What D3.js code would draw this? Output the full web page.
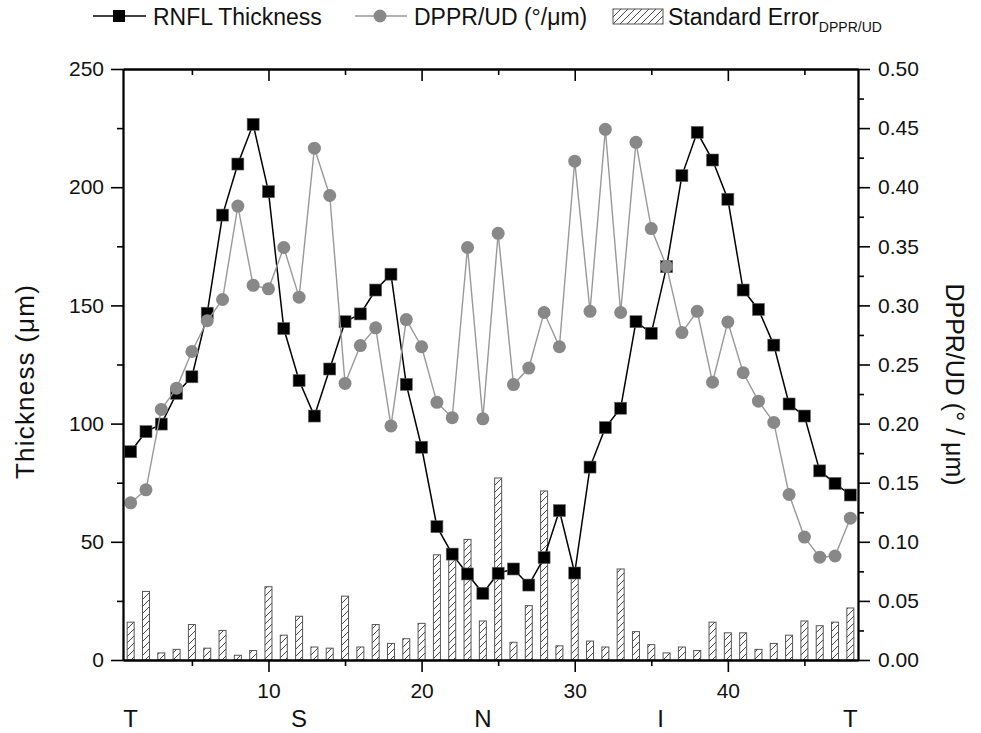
<!DOCTYPE html>
<html>
<head>
<meta charset="utf-8">
<script src="https://cdn.jsdelivr.net/npm/d3@7"></script>
<style>
  body { margin: 0; background: #fff; }
  svg { display: block; font-family: "Liberation Sans", Arial, sans-serif; }
</style>
</head>
<body>
<svg id="chart" width="981" height="733"></svg>
<script>
"use strict";

// sector index along the scan circle
const sector = [1, 2, 3, 4, 5, 6, 7, 8, 9, 10, 11, 12, 13, 14, 15, 16, 17, 18, 19, 20, 21, 22, 23, 24,
  25, 26, 27, 28, 29, 30, 31, 32, 33, 34, 35, 36, 37, 38, 39, 40, 41, 42, 43, 44, 45, 46, 47, 48];

// RNFL thickness (µm), left axis
const thickness = [88.1, 96.6, 99.8, 112.8, 119.8, 146.7, 188.2, 209.8, 226.6, 198.1, 140.2, 118.2,
  103.2, 123.1, 143.1, 146.4, 156.5, 163.2, 116.6, 90, 56.4, 44.8, 36.4, 28.2, 36.7, 38.5, 31.7, 43.3,
  63.2, 36.8, 81.6, 98.3, 106.5, 143.1, 138.2, 166.4, 204.9, 223.2, 211.5, 194.9, 156.5, 148.3, 133.2,
  108.3, 103.2, 80, 74.7, 69.8];

// DPPR/UD (°/µm), right axis
const dppr = [0.133, 0.144, 0.212, 0.230, 0.261, 0.287, 0.305, 0.384, 0.317, 0.314, 0.349, 0.307,
  0.433, 0.393, 0.234, 0.266, 0.281, 0.198, 0.288, 0.265, 0.218, 0.205, 0.349, 0.204, 0.361, 0.233,
  0.247, 0.294, 0.265, 0.422, 0.295, 0.449, 0.294, 0.438, 0.365, 0.333, 0.277, 0.295, 0.235, 0.286,
  0.243, 0.219, 0.201, 0.140, 0.104, 0.087, 0.088, 0.120];

// standard error of DPPR/UD, right axis
const stdErr = [0.032, 0.058, 0.006, 0.009, 0.030, 0.010, 0.025, 0.004, 0.008, 0.062, 0.021, 0.037,
  0.011, 0.010, 0.054, 0.011, 0.030, 0.014, 0.018, 0.031, 0.089, 0.088, 0.102, 0.033, 0.154, 0.015,
  0.046, 0.143, 0.012, 0.073, 0.016, 0.011, 0.077, 0.024, 0.013, 0.006, 0.011, 0.008, 0.032, 0.023,
  0.023, 0.009, 0.014, 0.021, 0.033, 0.029, 0.032, 0.044];

const xMajor = [10, 20, 30, 40];
const xMinor = [5, 15, 25, 35, 45];
const leftMajor = [0, 50, 100, 150, 200, 250];
const leftMinor = [25, 75, 125, 175, 225];
const rightMajor = [0, 0.05, 0.1, 0.15, 0.2, 0.25, 0.3, 0.35, 0.4, 0.45, 0.5];
const rightMinor = [0.025, 0.075, 0.125, 0.175, 0.225, 0.275, 0.325, 0.375, 0.425, 0.475];

// quadrant letters and where they sit on the sector axis
const regionLabels = ["T", "S", "N", "I", "T"];
const regionAt = [1, 12, 24, 35.6, 48];

const svg = d3.select("#chart");
const M = { left: 123, right: 858, top: 69, bottom: 660 };

const x = d3.scaleLinear().domain([0.5, 48.5]).range([M.left, M.right]);
const yL = d3.scaleLinear().domain([0, 250]).range([M.bottom, M.top]);
const yR = d3.scaleLinear().domain([0, 0.5]).range([M.bottom, M.top]);

// hatch pattern for the error bars
const defs = svg.append("defs");
defs.append("pattern")
  .attr("id", "hatch")
  .attr("patternUnits", "userSpaceOnUse")
  .attr("width", 7).attr("height", 7)
  .append("path")
  .attr("d", "M-1,8 L8,-1 M-1,1 L1,-1 M6,8 L8,6")
  .attr("stroke", "#333").attr("stroke-width", 0.9);

// ─── bars ───
const barW = 7;
svg.append("g").selectAll("rect")
  .data(sector.map((s, i) => ({ s, v: stdErr[i] })))
  .join("rect")
  .attr("x", d => x(d.s) - barW / 2)
  .attr("y", d => yR(d.v))
  .attr("width", barW)
  .attr("height", d => yR(0) - yR(d.v))
  .attr("fill", "url(#hatch)")
  .attr("stroke", "#555")
  .attr("stroke-width", 1);

// ─── RNFL thickness ───
const rnfl = sector.map((s, i) => ({ s, v: thickness[i] }));
svg.append("path")
  .datum(rnfl)
  .attr("fill", "none").attr("stroke", "#000").attr("stroke-width", 1.5)
  .attr("d", d3.line().x(d => x(d.s)).y(d => yL(d.v)));
const sq = 12;
svg.append("g").selectAll("rect")
  .data(rnfl)
  .join("rect")
  .attr("x", d => x(d.s) - sq / 2)
  .attr("y", d => yL(d.v) - sq / 2)
  .attr("width", sq).attr("height", sq)
  .attr("fill", "#000").attr("stroke", "#666").attr("stroke-width", 0.6);

// ─── DPPR/UD ───
const dp = sector.map((s, i) => ({ s, v: dppr[i] }));
svg.append("path")
  .datum(dp)
  .attr("fill", "none").attr("stroke", "#999").attr("stroke-width", 1.4)
  .attr("d", d3.line().x(d => x(d.s)).y(d => yR(d.v)));
svg.append("g").selectAll("circle")
  .data(dp)
  .join("circle")
  .attr("cx", d => x(d.s))
  .attr("cy", d => yR(d.v))
  .attr("r", 6.5)
  .attr("fill", "#888");

// ─── axes ───
function styleAxis(g) {
  g.select(".domain").attr("stroke", "#000").attr("stroke-width", 1.8);
  g.selectAll(".tick line").attr("stroke", "#000").attr("stroke-width", 1.6);
  g.selectAll(".tick text").attr("font-size", 21).attr("fill", "#111")
    .attr("font-family", "\"Liberation Sans\", Arial, sans-serif");
}

function axis(maker, scale, values, size, pad, fmt, tx, ty) {
  const a = maker(scale).tickValues(values).tickSizeInner(size).tickSizeOuter(0).tickPadding(pad);
  a.tickFormat(fmt);
  svg.append("g").attr("transform", `translate(${tx},${ty})`).call(a).call(styleAxis);
}

const none = () => "";
axis(d3.axisLeft, yL, leftMinor, 6, 0, none, M.left, 0);
axis(d3.axisLeft, yL, leftMajor, 12, 7, d3.format("d"), M.left, 0);
axis(d3.axisRight, yR, rightMinor, 6, 0, none, M.right, 0);
axis(d3.axisRight, yR, rightMajor, 12, 8, d3.format(".2f"), M.right, 0);
axis(d3.axisBottom, x, xMinor, 6, 0, none, 0, M.bottom);
axis(d3.axisBottom, x, xMajor, 12, 11, d3.format("d"), 0, M.bottom);
axis(d3.axisTop, x, xMinor, -6, 0, none, 0, M.top);
axis(d3.axisTop, x, xMajor, -12, 0, none, 0, M.top);

// quadrant letters
svg.append("g").selectAll("text")
  .data(regionLabels.map((t, i) => ({ t, s: regionAt[i] })))
  .join("text")
  .attr("x", d => x(d.s))
  .attr("y", 727)
  .attr("text-anchor", "middle")
  .attr("font-size", 24)
  .attr("fill", "#111")
  .text(d => d.t);

// axis titles
svg.append("text")
  .attr("transform", `translate(34,${(M.top + M.bottom) / 2 + 17}) rotate(-90)`)
  .attr("text-anchor", "middle")
  .attr("font-size", 26)
  .attr("letter-spacing", 1.2)
  .attr("fill", "#111")
  .text("Thickness (\u03bcm)");

svg.append("text")
  .attr("transform", `translate(946,${(M.top + M.bottom) / 2 + 20}) rotate(90)`)
  .attr("text-anchor", "middle")
  .attr("font-size", 25)
  .attr("fill", "#111")
  .text("DPPR/UD (\u00b0 / \u03bcm)");

// ─── legend ───
const lg = svg.append("g");
const ly = 16;
lg.append("line").attr("x1", 93).attr("x2", 146).attr("y1", ly).attr("y2", ly)
  .attr("stroke", "#000").attr("stroke-width", 1.5);
lg.append("rect").attr("x", 119 - 6).attr("y", ly - 6).attr("width", 12).attr("height", 12)
  .attr("fill", "#000");
lg.append("text").attr("x", 153).attr("y", 25).attr("font-size", 23).attr("fill", "#111")
  .text("RNFL Thickness");

lg.append("line").attr("x1", 355).attr("x2", 407).attr("y1", ly).attr("y2", ly)
  .attr("stroke", "#999").attr("stroke-width", 1.4);
lg.append("circle").attr("cx", 380).attr("cy", ly).attr("r", 6.5).attr("fill", "#888");
lg.append("text").attr("x", 414).attr("y", 25).attr("font-size", 23).attr("fill", "#111")
  .text("DPPR/UD (\u00b0/\u03bcm)");

lg.append("rect").attr("x", 613).attr("y", 9).attr("width", 50).attr("height", 15)
  .attr("fill", "url(#hatch)").attr("stroke", "#555").attr("stroke-width", 1);
const se = lg.append("text").attr("x", 668).attr("y", 25).attr("font-size", 23).attr("fill", "#111");
se.append("tspan").text("Standard Error");
se.append("tspan").attr("font-size", 14).attr("dy", 7).text("DPPR/UD");
</script>
</body>
</html>
